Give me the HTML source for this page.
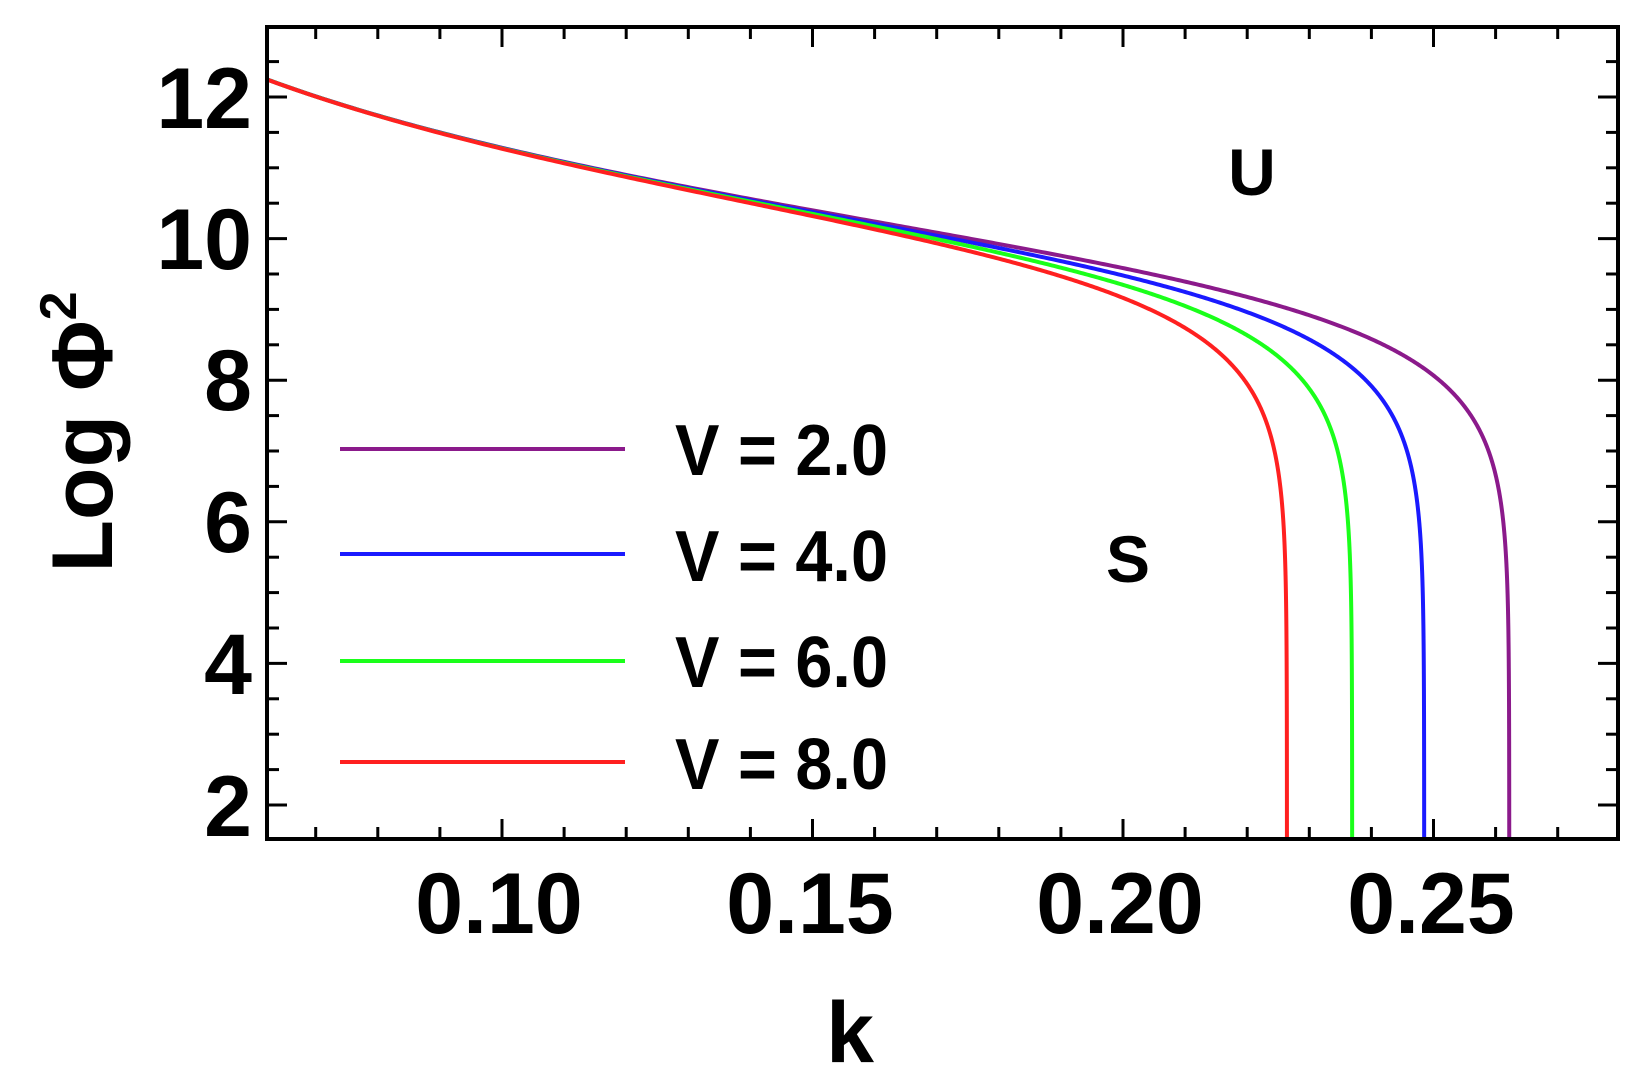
<!DOCTYPE html>
<html><head><meta charset="utf-8"><style>
html,body{margin:0;padding:0;background:#fff;}
svg{display:block;}
text{font-family:"Liberation Sans",Arial,sans-serif;font-weight:bold;fill:#000;}
</style></head><body>
<svg id="s" width="1644" height="1084" viewBox="0 0 1644 1084" xmlns="http://www.w3.org/2000/svg">
<defs><clipPath id="c"><rect x="267" y="27" width="1351" height="812"/></clipPath></defs>
<g id="curves" clip-path="url(#c)" fill="none" stroke-width="4" stroke-linejoin="round"></g>
<g id="ticks" stroke="#000" stroke-width="3"></g>
<rect x="267" y="27" width="1351" height="812" fill="none" stroke="#000" stroke-width="4"/>
<g font-size="86" text-anchor="end">
<text x="252" y="128">12</text>
<text x="252" y="269">10</text>
<text x="252" y="410">8</text>
<text x="252" y="552">6</text>
<text x="252" y="694">4</text>
<text x="252" y="836">2</text>
</g>
<g font-size="86" text-anchor="middle">
<text x="499" y="933">0.10</text>
<text x="810" y="933">0.15</text>
<text x="1120" y="933">0.20</text>
<text x="1431" y="933">0.25</text>
<text x="850" y="1062">k</text>
</g>
<text font-size="86" text-anchor="middle" transform="translate(112,432) rotate(-90)">Log Φ<tspan font-size="52" dy="-36">2</tspan></text>
<g stroke-width="4">
<line x1="340" y1="449" x2="625" y2="449" stroke="#8b1a8b"/>
<line x1="340" y1="554" x2="625" y2="554" stroke="#1a1aff"/>
<line x1="340" y1="661" x2="625" y2="661" stroke="#1aff1a"/>
<line x1="340" y1="762" x2="625" y2="762" stroke="#ff2020"/>
</g>
<g font-size="72">
<text x="675" y="475" textLength="213" lengthAdjust="spacingAndGlyphs">V = 2.0</text>
<text x="675" y="581" textLength="213" lengthAdjust="spacingAndGlyphs">V = 4.0</text>
<text x="675" y="687" textLength="213" lengthAdjust="spacingAndGlyphs">V = 6.0</text>
<text x="675" y="789" textLength="213" lengthAdjust="spacingAndGlyphs">V = 8.0</text>
</g>
<text x="1252" y="195" font-size="66" text-anchor="middle">U</text>
<text x="1128" y="582" font-size="66" text-anchor="middle">S</text>
</svg>
<script>
var NS="http://www.w3.org/2000/svg";
function X(k){return 502+(k-0.10)*6210;}
function Y(v){return 805-(v-2)*70.8;}
var k0=0.0622;
var series=[[0.2622,"#8b1a8b"],[0.2485,"#1a1aff"],[0.2369,"#1aff1a"],[0.2264,"#ff2020"]];
var g=document.getElementById("curves");
series.forEach(function(s){
 var kc=s[0],d="";
 for(var i=0;i<=600;i++){
  var u=i/600;var k=kc-(kc-k0)*Math.pow(1-u,3);
  if(k>=kc)k=kc-1e-9;
  var t=Math.pow(k/kc,4);
  var v=12.25-2*Math.log(k/k0)+0.8*Math.log(Math.max(1-t,1e-12));
  if(v<1.0)v=1.0;
  d+=(i?"L":"M")+X(k).toFixed(2)+","+Y(v).toFixed(2);
  if(v<=1.0)break;
 }
 var p=document.createElementNS(NS,"path");
 p.setAttribute("d",d);p.setAttribute("stroke",s[1]);g.appendChild(p);
});
var tg=document.getElementById("ticks");
function ln(x1,y1,x2,y2){var l=document.createElementNS(NS,"line");l.setAttribute("x1",x1);l.setAttribute("y1",y1);l.setAttribute("x2",x2);l.setAttribute("y2",y2);tg.appendChild(l);}
for(var i=7;i<=27;i++){var k=i/100,x=X(k);if(x<268||x>1617)continue;var L=(i%5==0)?20:12;ln(x,839,x,839-L);ln(x,27,x,27+L);}
for(var j=3;j<=26;j++){var v=j/2,y=Y(v);if(y<28||y>838)continue;var L=(j%4==0)?20:12;ln(267,y,267+L,y);ln(1618,y,1618-L,y);}
</script>
</body></html>
